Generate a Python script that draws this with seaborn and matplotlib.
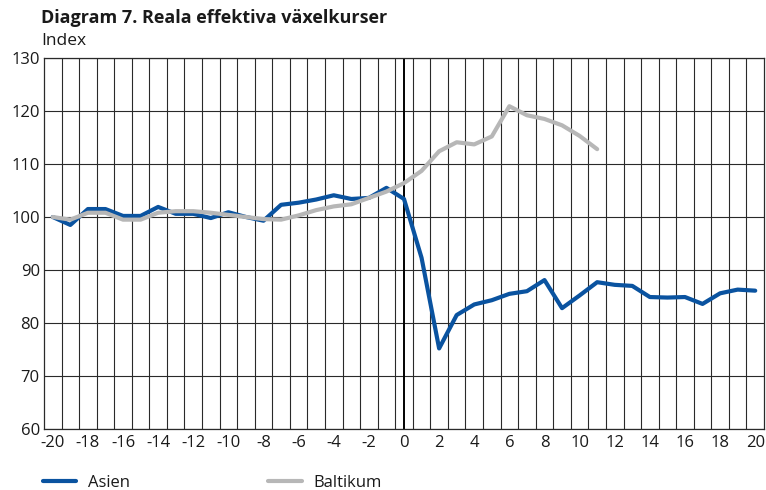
import numpy as np
import pandas as pd
import matplotlib
matplotlib.use("Agg")
import matplotlib.pyplot as plt
import seaborn as sns
from matplotlib.lines import Line2D

periods_asien = list(range(-20, 21))
asien = [100, 98.5, 101.5, 101.5, 100.2, 100.2, 101.9, 100.6, 100.6, 99.8,
         100.9, 100.0, 99.3, 102.3, 102.7, 103.3, 104.1, 103.4, 103.6, 105.5,
         103.4, 92.3, 75.2, 81.5, 83.5, 84.3, 85.5, 86.0, 88.1, 82.8,
         85.2, 87.7, 87.2, 87.0, 84.9, 84.8, 84.9, 83.6, 85.6, 86.3, 86.1]
periods_baltikum = list(range(-20, 12))
baltikum = [100, 99.5, 100.8, 100.8, 99.5, 99.5, 100.8, 101.1, 101.1, 100.8,
            100.4, 100.0, 99.6, 99.5, 100.3, 101.3, 102.0, 102.4, 103.6, 104.8,
            106.4, 108.7, 112.4, 114.1, 113.7, 115.2, 120.9, 119.2, 118.5, 117.3,
            115.3, 112.8]
series_names = ["Asien", "Baltikum"]
colors = {"Asien": "#0a53a0", "Baltikum": "#b7b7b7"}
x_tick_labels = list(range(-20, 21, 2))
y_ticks = list(range(60, 131, 10))

df = pd.concat([
    pd.DataFrame({"period": periods_asien, "value": asien, "serie": "Asien"}),
    pd.DataFrame({"period": periods_baltikum, "value": baltikum, "serie": "Baltikum"}),
])

sns.set_theme(style="white")
plt.rcParams["font.family"] = ["Open Sans", "DejaVu Sans"]

fig = plt.figure(figsize=(7.66, 4.90), dpi=100)
ax = fig.add_axes([44 / 766, (490 - 429) / 490, 720 / 766, 371 / 490])

sns.lineplot(data=df, x="period", y="value", hue="serie", hue_order=series_names,
             palette=colors, linewidth=3.0, ax=ax, legend=False, zorder=3)

ax.set_xlim(-20.5, 20.5)
ax.set_ylim(60, 130)
ax.set_xticks(x_tick_labels)
ax.set_xticklabels([str(v) for v in x_tick_labels])
ax.set_xticks(np.arange(-19.5, 20.5, 1.0), minor=True)
ax.set_yticks(y_ticks)
ax.tick_params(axis="both", which="both", length=0, labelsize=12, colors="#1a1a1a")
ax.tick_params(axis="x", pad=4)
ax.tick_params(axis="y", pad=3)
ax.grid(False)
ax.grid(True, which="minor", axis="x", color="#2a2a2a", linewidth=0.8)
ax.grid(True, which="major", axis="y", color="#2a2a2a", linewidth=0.8)
ax.axvline(0, color="#000000", linewidth=1.4, zorder=2)
ax.set_xlabel("")
ax.set_ylabel("")
for s in ax.spines.values():
    s.set_color("#2a2a2a")
    s.set_linewidth(0.9)

fig.text(41 / 766, 1 - 18 / 490, "Diagram 7. Reala effektiva växelkurser",
         fontsize=13, fontweight="bold", va="center", ha="left", color="#1a1a1a")
fig.text(41 / 766, 1 - 41 / 490, "Index", fontsize=12.5, va="center", ha="left",
         color="#1a1a1a")

handles = [Line2D([0], [0], color=colors[n], linewidth=3.0) for n in series_names]
fig.legend(handles, series_names, loc="center left",
           bbox_to_anchor=(43 / 766, 1 - 483 / 490), ncol=2, frameon=False,
           fontsize=12, handlelength=2.0, handletextpad=0.7, columnspacing=8.3,
           borderaxespad=0, borderpad=0, labelcolor="#1a1a1a")

fig.savefig("out.png", dpi=100)
